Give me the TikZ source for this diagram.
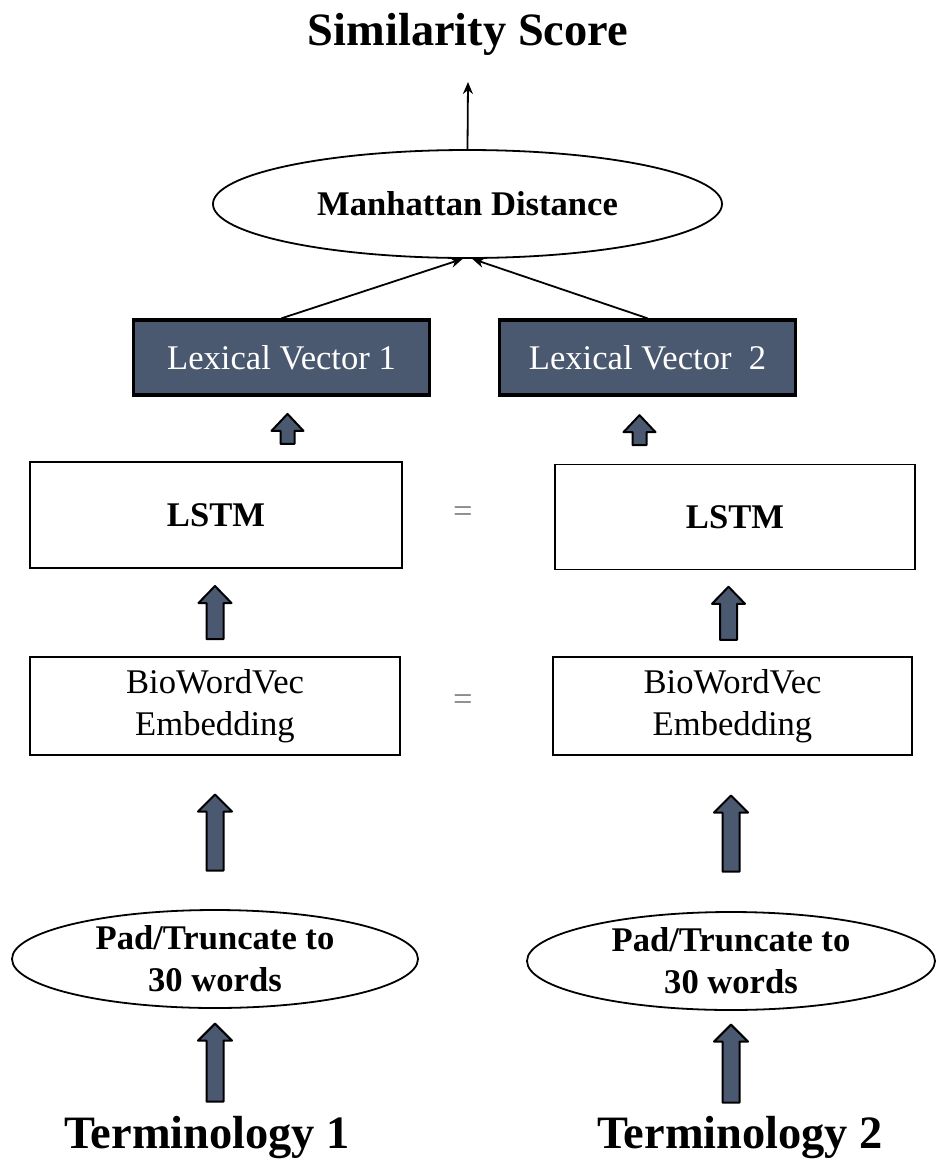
\documentclass[tikz,border=0pt]{standalone}
\usepackage{fontspec}
\setmainfont{Liberation Serif}
\usepackage{tikz}
\tikzset{x=.5pt,y=-.5pt}
\usetikzlibrary{arrows.meta, shapes.geometric, calc}
\definecolor{slate}{HTML}{4A5870}
\def\bodysize{\fontsize{17.3}{21}\selectfont}
\def\bigsize{\fontsize{23.2}{28}\selectfont}
% block arrow between two nodes: from, to, length, half shaft, half head
\newcommand{\blockarrow}[5]{%
  \path ($(#1)!.5!(#2)$) coordinate (mid);
  \filldraw[blockfill] ($(mid)+(-#4,#3/2)$) -- ++(0,-#3+17) -- ++(-#5+#4,0)
    -- ++(#5,-17) -- ++(#5,17) -- ++(-#5+#4,0) -- ++(0,#3-17) -- cycle;}

\begin{document}
\begin{tikzpicture}[
  box/.style={draw, line width=.9pt, align=center, font=\bodysize},
  vecbox/.style={draw, line width=1.7pt, fill=slate, text=white, font=\bodysize,
    minimum width=148pt, minimum height=37.5pt},
  oval/.style={ellipse, draw, line width=.9pt, align=center, inner sep=0pt,
    font=\bodysize\bfseries},
  blockfill/.style={draw=black, line width=1pt, fill=slate, line join=round},
  link/.style={line width=.9pt, -{Stealth[length=6pt,width=5pt]}},
  eq/.style={text=gray, font=\bodysize}
]
\useasboundingbox (0,0) rectangle (937,1174);

% top
\node[font=\bigsize\bfseries] (score) at (468,34) {Similarity Score};
\coordinate (scoretip) at (468,82);
\node[oval, minimum width=254.5pt, minimum height=54pt] (md) at (467.5,204)
  {Manhattan Distance};
\draw[link] (md.north) -- (scoretip);

% lexical vectors
\node[vecbox] (lv1) at (281.5,357.5) {Lexical Vector 1};
\node[vecbox] (lv2) at (647.5,357.5) {Lexical Vector\ \ 2};
\draw[link] (lv1.north) -- (md.265);
\draw[link] (lv2.north) -- (md.275);

% lstm
\node[box, minimum width=186pt, minimum height=53pt] (lstm1) at (216,515) {\bfseries LSTM};
\node[box, minimum width=180pt, minimum height=52.5pt] (lstm2) at (735,517) {\bfseries LSTM};
\node[eq] (eq1) at (463,515) {=};

% embeddings
\node[box, minimum width=185pt, minimum height=49pt] (emb1) at (215,706)
  {BioWordVec\\Embedding};
\node[box, minimum width=179.5pt, minimum height=49pt] (emb2) at (732.5,706)
  {BioWordVec\\Embedding};
\node[eq] (eq2) at (463,703) {=};

% padding
\node[oval, minimum width=203pt, minimum height=49pt] (pad1) at (215,959)
  {Pad/Truncate to\\30 words};
\node[oval, minimum width=204pt, minimum height=49pt] (pad2) at (731,961)
  {Pad/Truncate to\\30 words};

% inputs
\node[font=\bigsize\bfseries, inner sep=0pt] (term1) at (207,1138) {Terminology 1};
\node[font=\bigsize\bfseries, inner sep=0pt] (term2) at (740,1138) {Terminology 2};

% block arrows
\blockarrow{[xshift=3pt]lv1.south}{[xshift=3pt]lv1.south |- lstm1.north}{30}{7}{16}
\blockarrow{[xshift=-4pt]lv2.south}{[xshift=-4pt]lv2.south |- lstm2.north}{30}{7}{16}
\blockarrow{emb1.north}{emb1.north |- lstm1.south}{53}{8.5}{16.5}
\blockarrow{[xshift=-2pt]emb2.north}{[xshift=-2pt]emb2.north |- lstm2.south}{53}{8.5}{16.5}
\blockarrow{pad1.north}{pad1.north |- emb1.south}{76}{8.5}{17}
\blockarrow{pad2.north}{pad2.north |- emb2.south}{76}{8.5}{17}
\blockarrow{pad1.south}{pad1.south |- term1.north}{78}{8.5}{17}
\blockarrow{pad2.south}{pad2.south |- term2.north}{78}{8.5}{17}
\end{tikzpicture}
\end{document}
